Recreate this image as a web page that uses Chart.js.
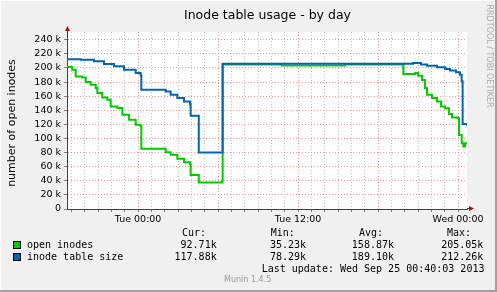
<!DOCTYPE html>
<html>
<head>
<meta charset="utf-8">
<script src="https://cdn.jsdelivr.net/npm/chart.js@4"></script>
<style>
  html, body { margin: 0; padding: 0; background: #f0f0f0; }
  #wrap { position: relative; width: 497px; height: 292px; background: #f0f0f0; overflow: hidden; }
  #wrap canvas { position: absolute; left: 0; top: 0; }
  .t { position: absolute; white-space: pre; line-height: 12px; color: #000; }
  .mono { font-family: "DejaVu Sans Mono", monospace; font-size: 10px; }
  .sq { position: absolute; width: 6px; height: 6px; border: 1px solid #000; }
  .edge { position: absolute; }
</style>
</head>
<body>
<div id="wrap">
  <canvas id="inodeChart" width="497" height="292"></canvas>

  <div class="t" style="left:267.5px;top:14px;transform:translate(-50%,-50%);font:12.5px 'DejaVu Sans';">Inode table usage - by day</div>
  <div class="t" style="left:11px;top:123px;transform:translate(-50%,-50%) rotate(-90deg);font:11px 'DejaVu Sans';">number of open inodes</div>
  <div class="t" style="left:489px;top:56px;transform:translate(-50%,-50%) rotate(90deg);font:8px 'DejaVu Sans';color:#aaa;">RRDTOOL / TOBI OETIKER</div>

  <div class="t mono" style="left:182px;top:227px;">Cur:</div>
  <div class="t mono" style="left:270.7px;top:227px;">Min:</div>
  <div class="t mono" style="left:359px;top:227px;">Avg:</div>
  <div class="t mono" style="left:447px;top:227px;">Max:</div>

  <div class="sq" style="left:13px;top:241px;background:#00cc00;"></div>
  <div class="t mono" style="left:27px;top:239px;">open inodes</div>
  <div class="t mono" style="left:216.7px;top:239px;transform:translateX(-100%);">92.71k</div>
  <div class="t mono" style="left:306px;top:239px;transform:translateX(-100%);">35.23k</div>
  <div class="t mono" style="left:394px;top:239px;transform:translateX(-100%);">158.87k</div>
  <div class="t mono" style="left:483.3px;top:239px;transform:translateX(-100%);">205.05k</div>

  <div class="sq" style="left:13px;top:253px;background:#0066b3;"></div>
  <div class="t mono" style="left:27px;top:251px;">inode table size</div>
  <div class="t mono" style="left:216.7px;top:251px;transform:translateX(-100%);">117.88k</div>
  <div class="t mono" style="left:306px;top:251px;transform:translateX(-100%);">78.29k</div>
  <div class="t mono" style="left:394px;top:251px;transform:translateX(-100%);">189.10k</div>
  <div class="t mono" style="left:483.3px;top:251px;transform:translateX(-100%);">212.26k</div>

  <div class="t mono" style="left:261.7px;top:263px;">Last update: Wed Sep 25 00:40:03 2013</div>
  <div class="t" style="left:224px;top:275px;font:8px 'DejaVu Sans';color:#999;">Munin 1.4.5</div>

  <div class="edge" style="left:0;top:0;width:497px;height:1px;background:#fff;"></div>
  <div class="edge" style="left:0;top:0;width:1px;height:292px;background:#fff;"></div>
  <div class="edge" style="left:495px;top:0;width:2px;height:292px;background:#a0a0a0;"></div>
  <div class="edge" style="left:0;top:290px;width:497px;height:2px;background:#a0a0a0;"></div>
</div>

<script>
// hours relative to Tue 00:00, values in thousands
const openHours = [-5.33, -4.94, -4.68, -4.19, -3.93, -3.56, -3.18, -3.06, -2.69, -2.31,
  -2.06, -1.56, -1.18, -0.68, -0.18, 0.19, 0.24, 1.69, 2.07, 2.44,
  2.94, 3.44, 3.89, 3.94, 4.55, 6.27, 6.34, 10.77, 15.52,
  19.89, 20.77, 21.0, 21.3, 21.52, 21.67, 22.04, 22.42, 22.72, 23.02,
  23.32, 23.54, 23.99, 24.07, 24.27, 24.39, 24.52, 24.67];
const openValues = [201.4, 197.6, 188, 186.6, 180, 176.3, 171.6, 164.5, 158.2, 155,
  145.4, 143.1, 133.6, 126.5, 119.4, 117, 85.3, 85.3, 80.6, 76.8,
  71.1, 66.4, 63.5, 48.3, 37.5, 39.5, 205, 203.5, 205,
  191.5, 193, 189, 183, 171.5, 162, 157.4, 152.5, 145.4, 143,
  134.6, 129.8, 129, 105, 93.4, 88.6, 93.4, 92.7];

const tableHours = [-5.33, -4.3, -3.31, -2.56, -1.81, -1.06, -0.18, 0.19, 0.24, 1.69,
  2.07, 2.44, 2.94, 3.44, 3.89, 3.94, 4.55, 6.34, 19.89,
  20.62, 21.22, 21.67, 22.42, 23.02, 23.39, 23.84, 24.14, 24.27, 24.34,
  24.67];
const tableValues = [212.3, 211.8, 209.4, 205.7, 202.3, 197.6, 192.9, 189.5, 169.2, 169.2,
  166.8, 162, 157.4, 152.5, 148.8, 132.2, 80, 206, 206,
  207, 205, 203, 201, 198.5, 196.5, 194, 190.5, 181, 120.4,
  117.9];

const xTickHours = [0, 12, 24];
const xTickLabels = ['Tue 00:00', 'Tue 12:00', 'Wed 00:00'];

const hourMin = -5.333;
const hourMax = 24.667;

const ctx = document.getElementById('inodeChart').getContext('2d');

const munin = {
  id: 'munin',
  beforeDraw(chart) {
    const a = chart.chartArea;
    const c = chart.ctx;
    c.save();
    c.fillStyle = '#ffffff';
    c.fillRect(a.left, a.top, a.right - a.left, a.bottom - a.top);
    c.restore();
  },
  afterDraw(chart) {
    const a = chart.chartArea;
    const c = chart.ctx;
    c.save();
    c.strokeStyle = '#404040';
    c.lineWidth = 1;
    c.beginPath();
    c.moveTo(a.left + 0.5, a.top);
    c.lineTo(a.left + 0.5, a.top - 3);
    c.moveTo(a.right, a.bottom - 0.5);
    c.lineTo(a.right + 3, a.bottom - 0.5);
    c.stroke();
    c.fillStyle = '#a01010';
    c.beginPath();
    c.moveTo(a.left - 2, a.top - 1);
    c.lineTo(a.left + 3, a.top - 1);
    c.lineTo(a.left + 0.5, a.top - 6);
    c.closePath();
    c.fill();
    c.beginPath();
    c.moveTo(a.right + 2, a.bottom - 3);
    c.lineTo(a.right + 2, a.bottom + 2);
    c.lineTo(a.right + 7, a.bottom - 0.5);
    c.closePath();
    c.fill();
    c.restore();
  }
};

new Chart(ctx, {
  type: 'line',
  data: {
    datasets: [
      {
        label: 'inode table size',
        data: tableHours.map((h, i) => ({ x: h, y: tableValues[i] })),
        borderColor: '#0066b3',
        borderWidth: 2,
        pointRadius: 0,
        stepped: 'before',
        fill: false,
        order: 0
      },
      {
        label: 'open inodes',
        data: openHours.map((h, i) => ({ x: h, y: openValues[i] })),
        borderColor: '#00cc00',
        borderWidth: 2,
        pointRadius: 0,
        stepped: 'before',
        fill: false,
        order: 1
      }
    ]
  },
  options: {
    responsive: false,
    animation: false,
    layout: { padding: { top: 32, right: 30, bottom: 0, left: 0 } },
    plugins: {
      legend: { display: false },
      title: { display: false },
      tooltip: { enabled: false }
    },
    scales: {
      x: {
        type: 'linear',
        min: hourMin,
        max: hourMax,
        afterBuildTicks: (scale) => {
          const t = [];
          for (let h = -5; h <= 24; h++) t.push({ value: h });
          scale.ticks = t;
        },
        afterFit: (scale) => { scale.height = 83; },
        ticks: {
          autoSkip: false,
          maxRotation: 0,
          padding: 2,
          color: '#000',
          font: { family: 'DejaVu Sans', size: 9.5 },
          callback: (v) => {
            const i = xTickHours.indexOf(v);
            return i >= 0 ? xTickLabels[i] : '';
          }
        },
        grid: {
          color: (c) => (c.tick && c.tick.value % 6 === 0) ? 'rgba(230,130,130,0.8)' : 'rgba(170,170,170,0.7)',
          tickColor: '#808080',
          tickLength: 3,
          lineWidth: 1
        },
        border: { color: '#404040', width: 1, dash: [1, 2] }
      },
      y: {
        min: 0,
        max: 251,
        afterBuildTicks: (scale) => {
          const t = [];
          for (let v = 0; v <= 250; v += 10) t.push({ value: v });
          scale.ticks = t;
        },
        afterFit: (scale) => { scale.width = 67; },
        ticks: {
          padding: 3,
          color: '#000',
          font: { family: 'DejaVu Sans', size: 9.5 },
          callback: (v) => v % 20 !== 0 ? '' : (v === 0 ? '0' : v + ' k')
        },
        grid: {
          color: (c) => (c.tick && c.tick.value % 20 === 0) ? 'rgba(230,130,130,0.8)' : 'rgba(170,170,170,0.7)',
          tickColor: '#808080',
          tickLength: 3,
          lineWidth: 1
        },
        border: { color: '#404040', width: 1, dash: [1, 2] }
      }
    }
  },
  plugins: [munin]
});
</script>
</body>
</html>
